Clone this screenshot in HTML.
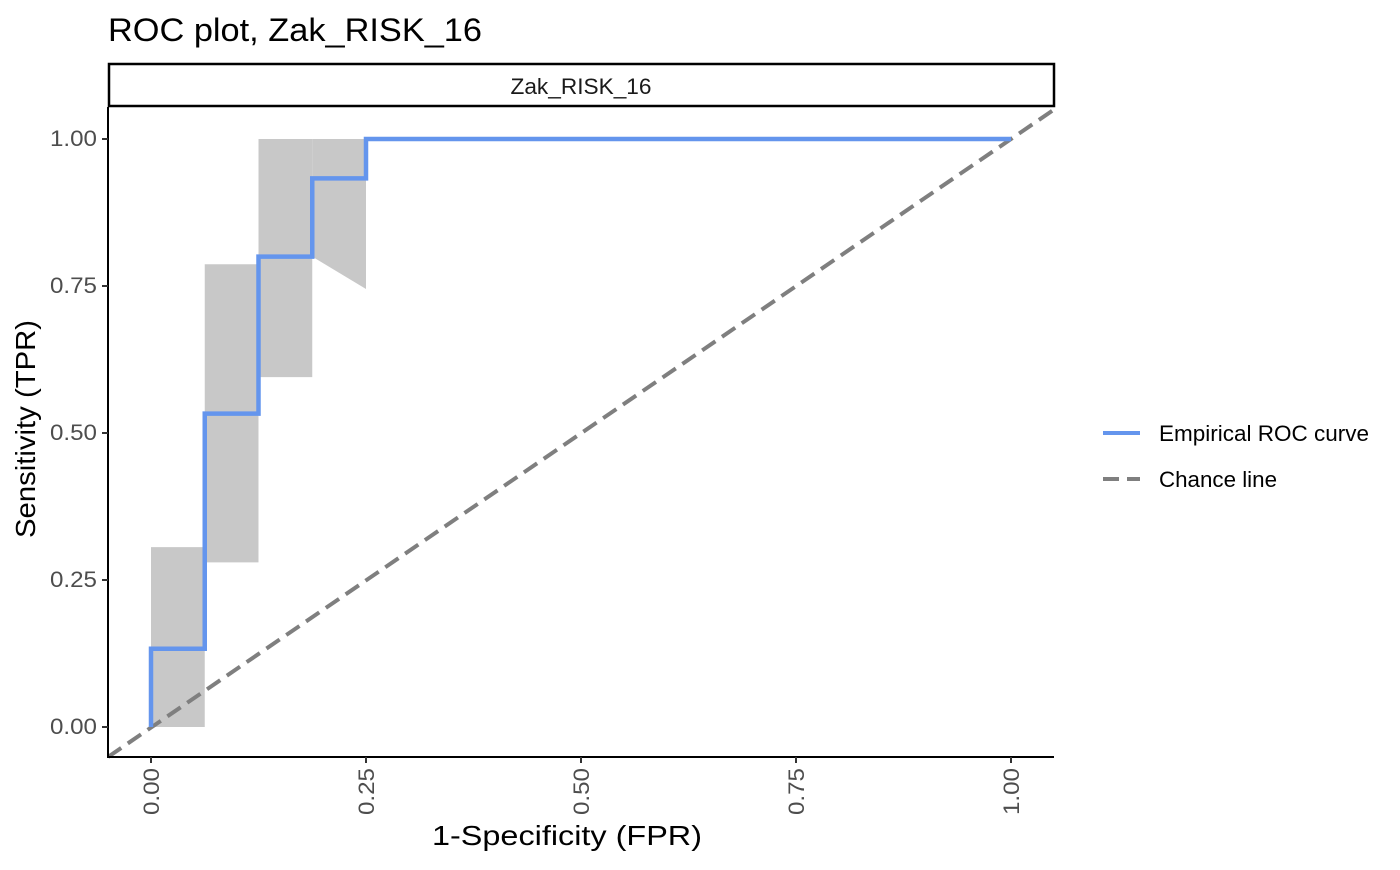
<!DOCTYPE html>
<html><head><meta charset="utf-8"><style>
body{margin:0;background:#fff}
text{font-family:"Liberation Sans",sans-serif}
</style></head><body>
<svg id="chart" width="1400" height="865" xmlns="http://www.w3.org/2000/svg">
<text x="108" y="41" font-size="32" textLength="374" lengthAdjust="spacingAndGlyphs" fill="#000">ROC plot, Zak_RISK_16</text>
<rect x="109" y="64" width="945" height="42" fill="#fff" stroke="#000" stroke-width="2.5"/>
<text x="581" y="94" font-size="22" textLength="141" lengthAdjust="spacingAndGlyphs" text-anchor="middle" fill="#1a1a1a">Zak_RISK_16</text>
<g id="bands"></g><g id="lines"></g><g id="axes"></g>
<text transform="translate(35,429) rotate(-90)" font-size="28" textLength="218" lengthAdjust="spacingAndGlyphs" text-anchor="middle">Sensitivity (TPR)</text>
<text x="567" y="845" font-size="28" textLength="270" lengthAdjust="spacingAndGlyphs" text-anchor="middle">1-Specificity (FPR)</text>
<g>
<line x1="1103" y1="433" x2="1140" y2="433" stroke="#6495ED" stroke-width="4"/>
<text x="1159" y="441" font-size="22" textLength="210" lengthAdjust="spacingAndGlyphs">Empirical ROC curve</text>
<line x1="1103" y1="479" x2="1140" y2="479" stroke="#7f7f7f" stroke-width="4" stroke-dasharray="16,8"/>
<text x="1159" y="487" font-size="22" textLength="118" lengthAdjust="spacingAndGlyphs">Chance line</text>
</g>
</svg>
<script>
const fprSteps=[0,0.0625,0.125,0.1875,0.25,1];
const tprSteps=[0,0.133,0.533,0.8,0.933,1];
const bandX0=[0,0.0625,0.125,0.1875];
const bandX1=[0.0625,0.125,0.1875,0.25];
const bandLowL=[0,0.28,0.595,0.8];
const bandLowR=[0,0.28,0.595,0.745];
const bandHigh=[0.306,0.787,1,1];
const ticks=[0,0.25,0.5,0.75,1];
const tickLabels=["0.00","0.25","0.50","0.75","1.00"];
const sx=v=>151+v*860, sy=v=>727-v*588;
const NS="http://www.w3.org/2000/svg";
function mk(t,a,p){const e=document.createElementNS(NS,t);for(const k in a)e.setAttribute(k,a[k]);p.appendChild(e);return e;}
const bands=document.getElementById('bands');
for(let i=0;i<bandX0.length;i++){
 const p=mk('polygon',{points:`${sx(bandX0[i])},${sy(bandLowL[i])} ${sx(bandX1[i])},${sy(bandLowR[i])} ${sx(bandX1[i])},${sy(bandHigh[i])} ${sx(bandX0[i])},${sy(bandHigh[i])}`,fill:'#c8c8c8'},bands);
 
 
}
const lines=document.getElementById('lines');
const ch=mk('line',{x1:sx(-0.05),y1:sy(-0.051),x2:sx(1.05),y2:sy(1.05),stroke:'#7f7f7f','stroke-width':4,'stroke-dasharray':'16,8'},lines);


let d=`M${sx(fprSteps[0])},${sy(tprSteps[0])}`;
for(let i=1;i<fprSteps.length;i++){d+=` L${sx(fprSteps[i-1])},${sy(tprSteps[i])} L${sx(fprSteps[i])},${sy(tprSteps[i])}`;}
const roc=mk('path',{d:d,fill:'none',stroke:'#6495ED','stroke-width':4.5,'stroke-linejoin':'miter'},lines);


const ax=document.getElementById('axes');
const yl=mk('line',{x1:108,y1:107,x2:108,y2:758,stroke:'#000','stroke-width':2},ax);


const xl=mk('line',{x1:107,y1:757,x2:1054,y2:757,stroke:'#000','stroke-width':2},ax);


ticks.forEach((t,i)=>{
 const a=mk('line',{x1:102,y1:sy(t),x2:108,y2:sy(t),stroke:'#333','stroke-width':2},ax);
 
 
 const l=mk('text',{x:97,y:sy(t)+7,'font-size':22,textLength:47,lengthAdjust:'spacingAndGlyphs','text-anchor':'end',fill:'#4d4d4d'},ax);l.textContent=tickLabels[i];
 
 
 const b=mk('line',{x1:sx(t),y1:757,x2:sx(t),y2:763,stroke:'#333','stroke-width':2},ax);
 
 
 const m=mk('text',{transform:`translate(${sx(t)+8},768) rotate(-90)`,'font-size':22,textLength:47,lengthAdjust:'spacingAndGlyphs','text-anchor':'end',fill:'#4d4d4d'},ax);m.textContent=tickLabels[i];
 
 
});
</script>
</body></html>
